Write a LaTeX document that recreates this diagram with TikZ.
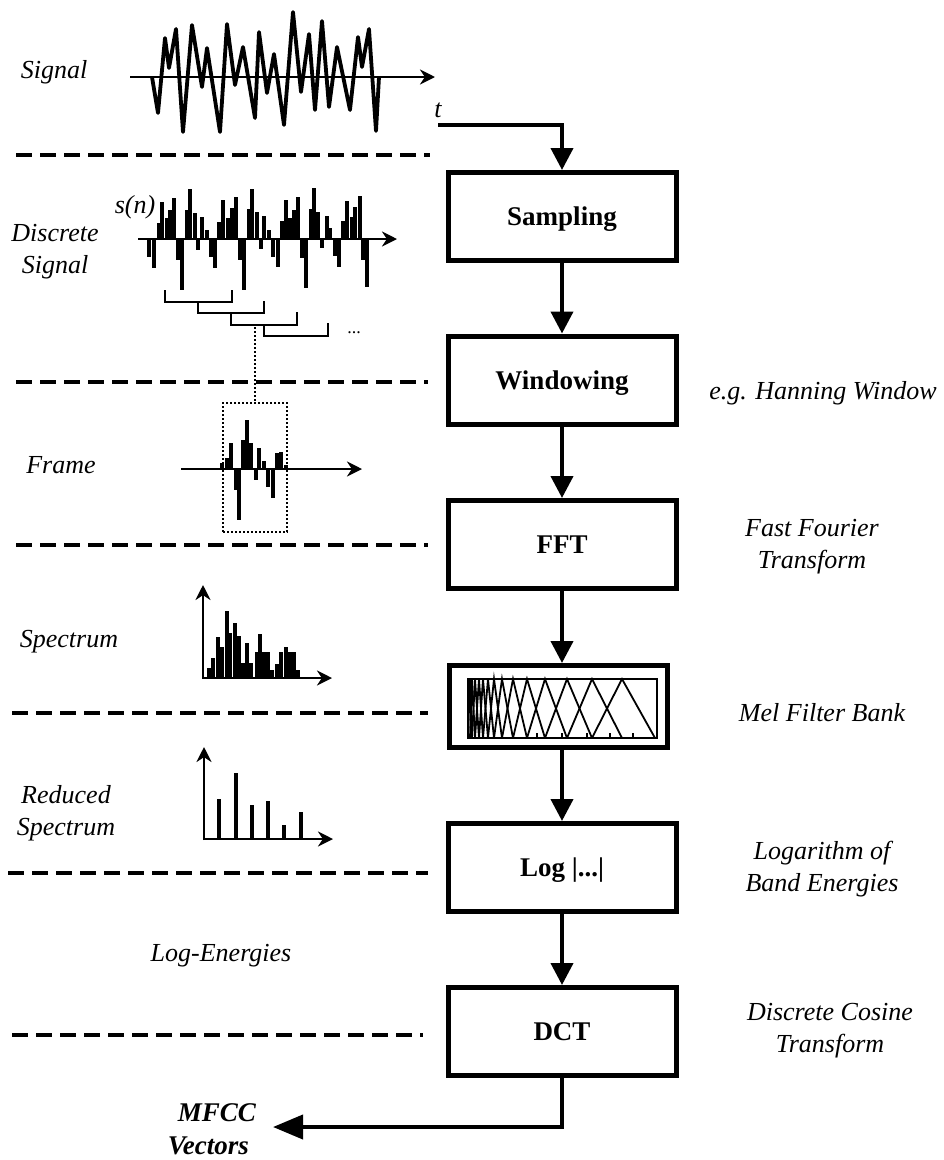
\documentclass[tikz,border=0pt]{standalone}
\usepackage{fontspec}
\setmainfont{Liberation Serif}
\usetikzlibrary{arrows.meta}
\begin{document}
\begin{tikzpicture}[x=1pt,y=-1pt,
  stepbox/.style={draw,line width=5pt,inner sep=0pt,text depth=0pt,minimum width=228pt,minimum height=88pt,font=\fontsize{27}{30}\selectfont\bfseries},
  conn/.style={line width=4pt,-{Triangle[width=22pt,length=22pt]}},
  outconn/.style={line width=4pt,-{Triangle[width=24pt,length=30pt]}},
  sepline/.style={line width=3.5pt,dash pattern=on 16pt off 8pt},
  lab/.style={font=\fontsize{26}{32}\selectfont\itshape,align=center,inner sep=0pt},
  axisarr/.style={line width=2.8pt,-{Stealth[length=15pt,width=15pt]}},
  wave/.style={line width=3.8pt,line join=round},
  bar/.style={line width=3.3pt},
  sbar/.style={line width=4pt},
  bracketline/.style={line width=2pt},
  dotline/.style={line width=2pt,dotted},
]
\useasboundingbox[fill=white] (0,0) rectangle (944,1160);

% ---------- process boxes ----------
\node[stepbox] (samp) at (562,216.5) {Sampling};
\node[stepbox] (win)  at (562,380)   {Windowing};
\node[stepbox] (fft)  at (562,544.5) {FFT};
\node[stepbox,minimum width=218pt,minimum height=82pt] (mel) at (558.5,706.5) {};
\node[stepbox] (logb) at (562,867.5) {Log |...|};
\node[stepbox] (dct)  at (562,1031.5) {DCT};

% ---------- connectors ----------
\coordinate (tstart) at (438,125);
\draw[conn] (tstart) -| (samp.north);
\draw[conn] (samp) -- (win);
\draw[conn] (win) -- (fft);
\draw[conn] (fft.south) -- (fft.south |- mel.north);
\draw[conn] (mel.south -| logb.north) -- (logb.north);
\draw[conn] (logb) -- (dct);
\coordinate (outend) at (273,1127);
\draw[outconn] (dct.south) |- (outend);

% ---------- separators ----------
\draw[sepline] (16,155) -- (430,155);
\draw[sepline] (16,382) -- (428,382);
\draw[sepline] (16,545) -- (428,545);
\draw[sepline] (12,713) -- (428,713);
\draw[sepline] (8,873) -- (428,873);
\draw[sepline] (12,1035) -- (423,1035);

% ---------- left labels ----------
\node[lab] (lsig) at (54,72) {Signal};
\node[lab] (ldisc) at (55,252) {Discrete\\Signal};
\node[lab] (lsn) at (135,207) {s(n)};
\node[lab] (lframe) at (61,465) {Frame};
\node[lab] (lspec) at (69,642) {Spectrum};
\node[lab] (lred) at (66,813) {Reduced\\Spectrum};
\node[lab] (llog) at (221,956) {Log-Energies};
\node[lab] (lt) at (438,110) {t};
\node[lab,font=\fontsize{27}{33}\selectfont\bfseries\itshape,anchor=east] (lmfcc) at (256,1113) {MFCC};
\node[lab,font=\fontsize{27}{33}\selectfont\bfseries\itshape,anchor=east] (lvec) at (249,1146) {Vectors};

% ---------- right labels ----------
\node[lab] (rhan) at (823,393) {e.g. Hanning Window};
\node[lab] (rfft) at (812,547) {Fast Fourier\\Transform};
\node[lab] (rmel) at (822,713) {Mel Filter Bank};
\node[lab] (rlog) at (822,869) {Logarithm of\\Band Energies};
\node[lab] (rdct) at (830,1031) {Discrete Cosine\\Transform};

% ---------- signal ----------
\draw[axisarr] (130,77) -- (435,77);
\draw[wave] plot coordinates {(152,77) (158,113) (165,38) (169,68) (176,29) (183,132) (192,25) (202,87) (207,48) (220,132) (227,24) (235,85) (243,47) (255,118) (259,32) (267,93) (274,54) (284,125) (293,12) (301,92) (309,34) (315,110) (322,21) (329,107) (337,47) (350,110) (358,37) (362,67) (369,29) (376,131) (379,77)};

% ---------- discrete signal ----------
\draw[axisarr] (138,239) -- (397,239);
\foreach \x/\y in {149/257,154/268,159/223,162/202,167/218,170/210,174/198,178/260,182/290,187/210,190/189,195/213,198/250,202/217,207/230,211/257,215/268,219/222,223/200,228/218,232/208,236/197,240/260,244/290,249/209,252/189,257/212,261/249,264/216,269/230,273/257,278/267,282/221,286/200,290/218,294/210,298/197,302/258,306/288,311/209,314/188,318/212,322/248,327/216,330/228,335/256,339/267,343/221,347/201,352/217,355/207,360/196,363/260,367/287}
  \draw[bar] (\x,239) -- (\x,\y);
\draw[bracketline] (165,290) -- (165,302) -- (232,302) -- (232,290);
\draw[bracketline] (198,302) -- (198,313) -- (264,313) -- (264,301);
\draw[bracketline] (231,313) -- (231,325) -- (297,325) -- (297,312);
\draw[bracketline] (264,325) -- (264,336) -- (328,336) -- (328,323);
\node[font=\fontsize{18}{20}\selectfont,inner sep=0pt] (dots) at (354,333) {...};

% ---------- frame ----------
\node[draw,dotline,minimum width=64pt,minimum height=129pt,inner sep=0pt] (framebox) at (255,467.5) {};
\coordinate (dotstart) at (255,327);
\draw[dotline] (dotstart) -- (framebox.north);
\draw[axisarr] (181,469) -- (362,469);
\foreach \x/\y in {222/463,227/458,231/443,236/490,239/520,243/440,247/420,251/443,256/480,259/448,264/461,268/487,273/498,277/453,281/452,286/465}
  \draw[bar] (\x,469) -- (\x,\y);

% ---------- spectrum ----------
\draw[axisarr] (203,679) -- (203,585);
\draw[axisarr] (202,678) -- (332,678);
\foreach \x/\y in {209/668,213/658,218/637,222/647,227/611,230/633,235/623,239/636,243/663,247/643,251/663,257/652,260/634,264/652,268/652,272/670,277/664,281/652,286/647,290/652,294/652,298/670}
  \draw[sbar] (\x,678) -- (\x,\y);

% ---------- reduced spectrum ----------
\draw[axisarr] (204,840) -- (204,747);
\draw[axisarr] (203,839) -- (333,839);
\foreach \x/\y in {219/799,236/773,252/805,268/801,284/825,301/812}
  \draw[bar] (\x,839) -- (\x,\y);

% ---------- mel filter bank ----------
\draw[line width=1.5pt] (468,679) rectangle (657,738);
\def\mellist{468,470,472,475,479,483,488,494,502,513,527,545,567,592,622,655}
\foreach \i in {1,...,14}{
  \pgfmathsetmacro{\a}{{\mellist}[\i-1]}
  \pgfmathsetmacro{\b}{{\mellist}[\i]}
  \pgfmathsetmacro{\c}{{\mellist}[\i+1]}
  \draw[line width=1.8pt,line join=miter] (\a,738) -- (\b,679) -- (\c,738);
}
\foreach \x in {537,562,587,610,633}
  \draw[line width=2pt] (\x,738) -- (\x,733);
\end{tikzpicture}
\end{document}
